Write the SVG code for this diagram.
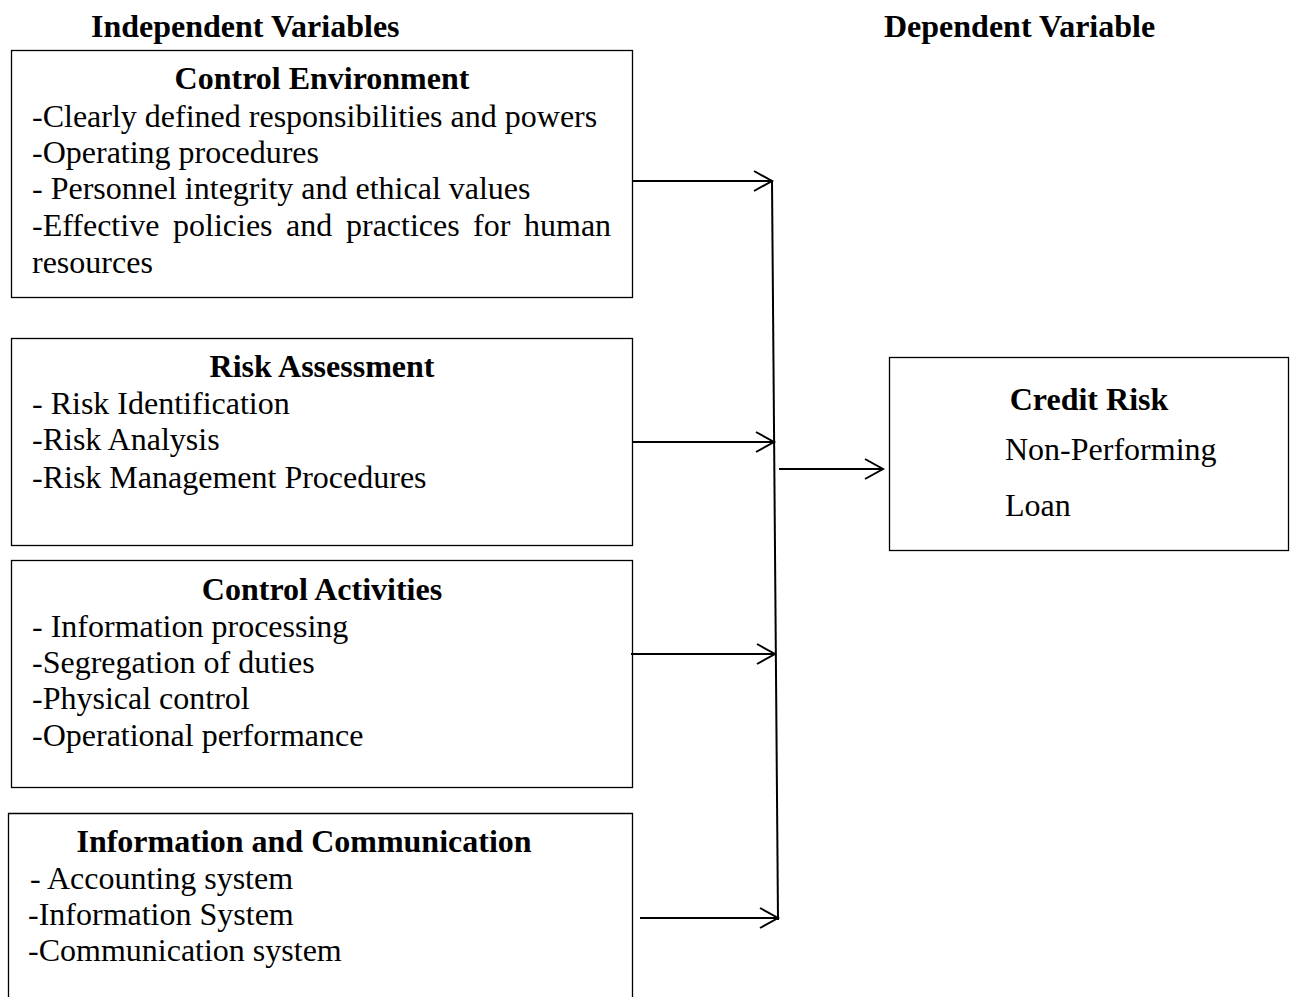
<svg xmlns="http://www.w3.org/2000/svg" width="1293" height="997" viewBox="0 0 1293 997">
<defs>
<style>
.box{fill:#fff;stroke:#000;stroke-width:1.3}
.t{font-family:"Liberation Serif","Times New Roman",serif;font-size:32px;fill:#000}
.b{font-weight:bold}
.c{stroke:#000;stroke-width:2;fill:none}
</style>
<marker id="arr" markerWidth="22" markerHeight="22" refX="19" refY="11" orient="auto" markerUnits="userSpaceOnUse">
<path d="M1,1 L19,11 L1,21" fill="none" stroke="#000" stroke-width="2"/>
</marker>
</defs>
<rect width="1293" height="997" fill="#fff"/>
<g id="headers">
<text class="t b" x="91" y="37">Independent Variables</text>
<text class="t b" x="884" y="37">Dependent Variable</text>
</g>
<g id="control-environment">
<rect class="box" x="11.5" y="50.5" width="621" height="247"/>
<text class="t b" x="322" y="89" text-anchor="middle">Control Environment</text>
<text class="t" x="32" y="127">-Clearly defined responsibilities and powers</text>
<text class="t" x="32" y="163">-Operating procedures</text>
<text class="t" x="32" y="199">- Personnel integrity and ethical values</text>
<text class="t" y="236"><tspan x="32">-Effective</tspan><tspan x="173">policies</tspan><tspan x="286">and</tspan><tspan x="346">practices</tspan><tspan x="473">for</tspan><tspan x="524">human</tspan></text>
<text class="t" x="32" y="273">resources</text>
</g>
<g id="risk-assessment">
<rect class="box" x="11.5" y="338.5" width="621" height="207"/>
<text class="t b" x="322" y="377" text-anchor="middle">Risk Assessment</text>
<text class="t" x="32" y="414">- Risk Identification</text>
<text class="t" x="32" y="450">-Risk Analysis</text>
<text class="t" x="32" y="488">-Risk Management Procedures</text>
</g>
<g id="control-activities">
<rect class="box" x="11.5" y="560.5" width="621" height="227"/>
<text class="t b" x="322" y="600" text-anchor="middle">Control Activities</text>
<text class="t" x="32" y="637">- Information processing</text>
<text class="t" x="32" y="673">-Segregation of duties</text>
<text class="t" x="32" y="709">-Physical control</text>
<text class="t" x="32" y="746">-Operational performance</text>
</g>
<g id="information-communication">
<path class="box" d="M8.5,1000 V813.5 H632.5 V1000" />
<text class="t b" x="304" y="852" text-anchor="middle">Information and Communication</text>
<text class="t" x="30" y="889">- Accounting system</text>
<text class="t" x="28" y="925">-Information System</text>
<text class="t" x="28" y="961">-Communication system</text>
</g>
<g id="credit-risk">
<rect class="box" x="889.5" y="357.5" width="399" height="193"/>
<text class="t b" x="1089" y="410" text-anchor="middle">Credit Risk</text>
<text class="t" x="1005" y="460">Non-Performing</text>
<text class="t" x="1005" y="516">Loan</text>
</g>
<g id="connectors">
<line class="c" x1="772" y1="181" x2="778" y2="920"/>
<line class="c" x1="632" y1="181" x2="772" y2="181" marker-end="url(#arr)"/>
<line class="c" x1="633" y1="442" x2="774" y2="442" marker-end="url(#arr)"/>
<line class="c" x1="631" y1="654" x2="775" y2="654" marker-end="url(#arr)"/>
<line class="c" x1="640" y1="918" x2="778" y2="918" marker-end="url(#arr)"/>
<line class="c" x1="779" y1="469" x2="883" y2="469" marker-end="url(#arr)"/>
</g>
</svg>
